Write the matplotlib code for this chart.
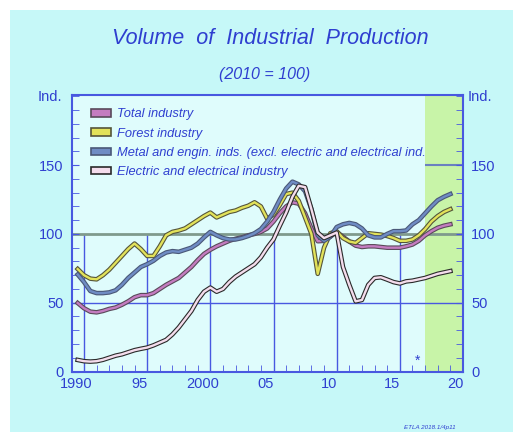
import matplotlib
matplotlib.use("Agg")
import matplotlib.pyplot as plt
import matplotlib.patheffects as pe
from matplotlib.patches import Patch, Rectangle

plt.rcParams['font.family'] = ['Liberation Sans', 'DejaVu Sans']

# half-year steps
years = [1989.5 + 0.5 * i for i in range(60)]

total = [49.8, 46, 43.5, 43, 44, 45.5, 46.5, 48.5, 51, 54,
         55.5, 55.5, 57, 60, 63, 65.5, 68, 72, 76, 81,
         85.5, 88.5, 91, 93, 95, 96.5, 97.5, 99, 100, 101.5,
         104, 109, 115, 120, 123, 122, 115, 104, 94.7, 95,
         98, 101.5, 98, 94.5, 91.5, 90.5, 91, 91, 90.5, 90,
         90, 90, 91, 92.3, 95, 99, 102, 104.5, 106, 107]

forest = [74.5, 70, 67.5, 67, 70, 74, 79, 84, 89, 93,
          89, 84, 84, 91, 99, 101.5, 102.5, 104, 107, 110,
          113, 115.5, 112, 114, 116, 117, 119, 120.5, 123, 120,
          111, 114, 121, 129, 130, 124, 112, 100, 71, 90,
          100.5, 102, 97, 94.5, 93.5, 97, 100.5, 100, 99.5, 98.5,
          97, 95, 95, 96, 99, 103.5, 109, 113, 116, 118]

metal = [70.5, 65, 58.5, 57, 57, 57.5, 59, 63, 68, 72,
         76, 78, 80.5, 84, 86.5, 87.5, 87, 88.5, 90, 93,
         97.5, 101.5, 99, 97, 96, 96, 97, 98.5, 100.5, 103.5,
         109, 116, 125, 133, 138, 136, 131, 118, 99, 95,
         98, 105, 107, 108, 107, 104, 99, 97.5, 97.5, 100,
         102, 102, 102.5, 107, 110, 115, 120, 124.5, 127, 129]

electric = [8.4, 7.5, 7.2, 7.5, 8.5, 10, 11.5, 12.5, 14, 15.5,
            16.5, 17.4, 19, 21, 23, 27, 32, 38, 44, 52,
            58, 61, 58, 60, 65, 69, 72, 75, 78, 83,
            90, 96, 106, 115.5, 127, 135, 134, 118, 101, 97,
            99, 101, 76, 63, 51, 52, 63, 68, 68.5, 66.8,
            65, 64, 65.5, 66, 67, 68, 69.5, 71, 72, 73]

series = [
    ("Total industry", total, "#c47cc0", "#5a4a5a"),
    ("Forest industry", forest, "#e2e25a", "#55553a"),
    ("Metal and engin. inds. (excl. electric and electrical ind.", metal, "#6f8cc4", "#4a5878"),
    ("Electric and electrical industry", electric, "#f4dcec", "#2a2a2a"),
]

blue = "#2f3fd0"
fig = plt.figure(figsize=(5.13, 4.32), dpi=100, facecolor="white")
fig.patches.append(Rectangle((10 / 513, 0), 1, 1 - 10 / 432, transform=fig.transFigure,
                             facecolor="#c6f8f8", edgecolor="none", zorder=-10))

ax = fig.add_axes([72 / 513, 60.5 / 432, 391 / 513, 276.5 / 432])
ax.set_facecolor("#dffcfc")
ax.set_xlim(1989.05, 2020)
ax.set_ylim(0, 201)

ax.axvspan(2017, 2020, color="#c8f4a8", zorder=0, lw=0)
ax.vlines([1990, 1995, 2000, 2005, 2010, 2015], 0, 100, color="#4858e0", lw=1, zorder=1)
ax.axhline(50, color="#4858e0", lw=1, zorder=1)
ax.axhline(100, color="#7f9a8c", lw=2, zorder=1)
ax.hlines(150, 2017, 2020, color="#6a80c0", lw=1.5, zorder=1)

handles = []
for name, vals, col, edge in series:
    ax.plot(years, vals, color=col, lw=1.7, zorder=3,
            path_effects=[pe.Stroke(linewidth=3.3, foreground=edge), pe.Normal()])
    handles.append(Patch(facecolor=col, edgecolor=edge, linewidth=1.2, label=name))

leg = ax.legend(handles=handles, loc="upper left", bbox_to_anchor=(0.035, 0.97),
                frameon=False, fontsize=9.3, handlelength=1.55, handleheight=0.5,
                handletextpad=0.45, labelspacing=0.56, borderaxespad=0)
for t in leg.get_texts():
    t.set_color(blue)
    t.set_style("italic")

for s in ax.spines.values():
    s.set_color("#4858e0")
    s.set_linewidth(1.5)

ax.set_yticks([0, 50, 100, 150])
ax.set_yticks(range(0, 201, 10), minor=True)
ax.tick_params(axis="y", which="both", direction="in", left=True, right=True,
               labelleft=True, labelright=True, colors="#4858e0", length=5,
               labelsize=10.5, labelcolor=blue, pad=6)

ax.set_xticks([x - 0.6 for x in [1990, 1995, 2000, 2005, 2010, 2015, 2020]])
ax.set_xticklabels(["1990", "95", "2000", "05", "10", "15", "20"])
ax.set_xticks(range(1990, 2020), minor=True)
ax.tick_params(axis="x", which="major", length=0, labelsize=10.5, labelcolor=blue, pad=4)
ax.tick_params(axis="x", which="minor", direction="in", length=5, color="#4858e0")

ax.text(2016.4, 3, "*", color=blue, fontsize=10, ha="center", va="bottom")

fig.text(270 / 513, 1 - 39 / 432, "Volume  of  Industrial  Production", color=blue,
         fontsize=15.5, style="italic", ha="center", va="center")
fig.text(265 / 513, 1 - 74 / 432, "(2010 = 100)", color=blue, fontsize=11.5,
         style="italic", ha="center", va="center")
fig.text(50 / 513, 1 - 97 / 432, "Ind.", color=blue, fontsize=10.5, ha="center", va="center")
fig.text(480 / 513, 1 - 97 / 432, "Ind.", color=blue, fontsize=10.5, ha="center", va="center")
fig.text(430 / 513, 1 - 427 / 432, "ETLA 2018.1/4p11", color=blue, fontsize=4.5,
         style="italic", ha="center", va="center")

fig.savefig("out.png", dpi=100, facecolor=fig.get_facecolor())
